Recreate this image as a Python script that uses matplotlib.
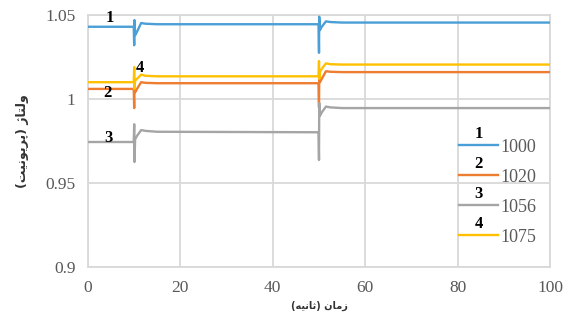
import numpy as np
import matplotlib
matplotlib.use("Agg")
import matplotlib.pyplot as plt

# time points (s) and per-unit voltages for the four cases
t = [0, 9.9, 10.0, 10.05, 10.2, 10.6, 11.5, 12.5, 15, 49.9, 50.0, 50.05, 50.2, 50.6, 51.5, 52.5, 55, 100]
v_1000 = [1.043, 1.043, 1.032, 1.047, 1.038, 1.040, 1.0452, 1.0448, 1.0445, 1.0445,
          1.0275, 1.049, 1.041, 1.043, 1.0462, 1.0458, 1.0455, 1.0455]
v_1020 = [1.006, 1.006, 0.9946, 1.010, 1.004, 1.006, 1.0100, 1.0096, 1.0094, 1.0094,
          0.9950, 1.014, 1.010, 1.012, 1.0165, 1.0162, 1.016, 1.016]
v_1056 = [0.9744, 0.9744, 0.985, 0.9625, 0.976, 0.978, 0.9815, 0.981, 0.9805, 0.9802,
          0.9637, 0.9976, 0.990, 0.992, 0.9955, 0.995, 0.9946, 0.9946]
v_1075 = [1.010, 1.010, 1.019, 1.006, 1.011, 1.012, 1.0145, 1.0138, 1.0135, 1.0135,
          1.0226, 1.012, 1.016, 1.018, 1.0212, 1.0207, 1.0205, 1.0205]

series = [v_1000, v_1020, v_1056, v_1075]
labels = ["1000", "1020", "1056", "1075"]
numbers = ["1", "2", "3", "4"]
colors = ["#4a9fd6", "#ed7d31", "#a5a5a5", "#ffc000"]
# where the case numbers sit next to the curves
num_pos = [(4.8, 1.0485), (4.2, 1.0035), (4.4, 0.9765), (11.2, 1.0185)]

xticks = [0, 20, 40, 60, 80, 100]
yticks = [0.9, 0.95, 1.0, 1.05]
ytick_labels = ["0.9", "0.95", "1", "1.05"]

# Persian labels written in presentation forms, visual order
xlabel = "(\ufeea\ufef4\ufee7\ufe8e\ufe9b) \ufee5\ufe8e\ufee3\ufeaf"
ylabel = "(\ufe96\ufef4\ufee7\ufeee\ufef3\ufeae\ufb58) \ufb8a\ufe8e\ufe98\ufedf\ufeed"

fig = plt.figure(figsize=(5.68, 3.28), dpi=100)
ax = fig.add_axes([88 / 568, 1 - 267 / 328, 462 / 568, 252 / 328])

grid_c = "#d9d9d9"
tick_c = "#595959"
serif = "Liberation Serif"

for v, lab, c in zip(series, labels, colors):
    ax.plot(t, v, color=c, lw=1.7, label=lab, zorder=3)

for (x, y), n in zip(num_pos, numbers):
    ax.text(x, y, n, fontsize=12, fontweight="bold", family=serif,
            ha="center", va="center", zorder=4)

ax.set_xlim(0, 100)
ax.set_ylim(0.9, 1.05)
ax.set_xticks(xticks)
ax.set_yticks(yticks)
ax.set_yticklabels(ytick_labels)
ax.grid(True, color=grid_c, lw=1.3, zorder=0)
for s in ax.spines.values():
    s.set_color(grid_c)
    s.set_linewidth(1.3)
ax.tick_params(length=0, pad=9, labelcolor=tick_c, labelsize=12.5)
for lab in ax.get_xticklabels() + ax.get_yticklabels():
    lab.set_family(serif)

ax.set_xlabel(xlabel, family="DejaVu Sans", fontsize=7, fontweight="bold",
              color="#333333", labelpad=4)
ax.set_ylabel(ylabel, family="DejaVu Sans", fontsize=9, fontweight="bold",
              color="#333333", labelpad=12)

leg = ax.legend(loc="lower right", bbox_to_anchor=(1.005, 0.02), frameon=False,
                handlelength=2.2, handletextpad=0.1, labelspacing=0.72,
                prop={"family": serif, "size": 13}, labelcolor=tick_c)

fig.canvas.draw()
inv = ax.transData.inverted()
for hl, n in zip(leg.legend_handles, numbers):
    bb = hl.get_window_extent(fig.canvas.get_renderer())
    cx, cy = inv.transform(((bb.x0 + bb.x1) / 2, bb.y1))
    ax.text(cx, cy + 0.002, n, fontsize=12, fontweight="bold", family=serif,
            ha="center", va="bottom", zorder=4)

fig.savefig("out.png", dpi=100)
